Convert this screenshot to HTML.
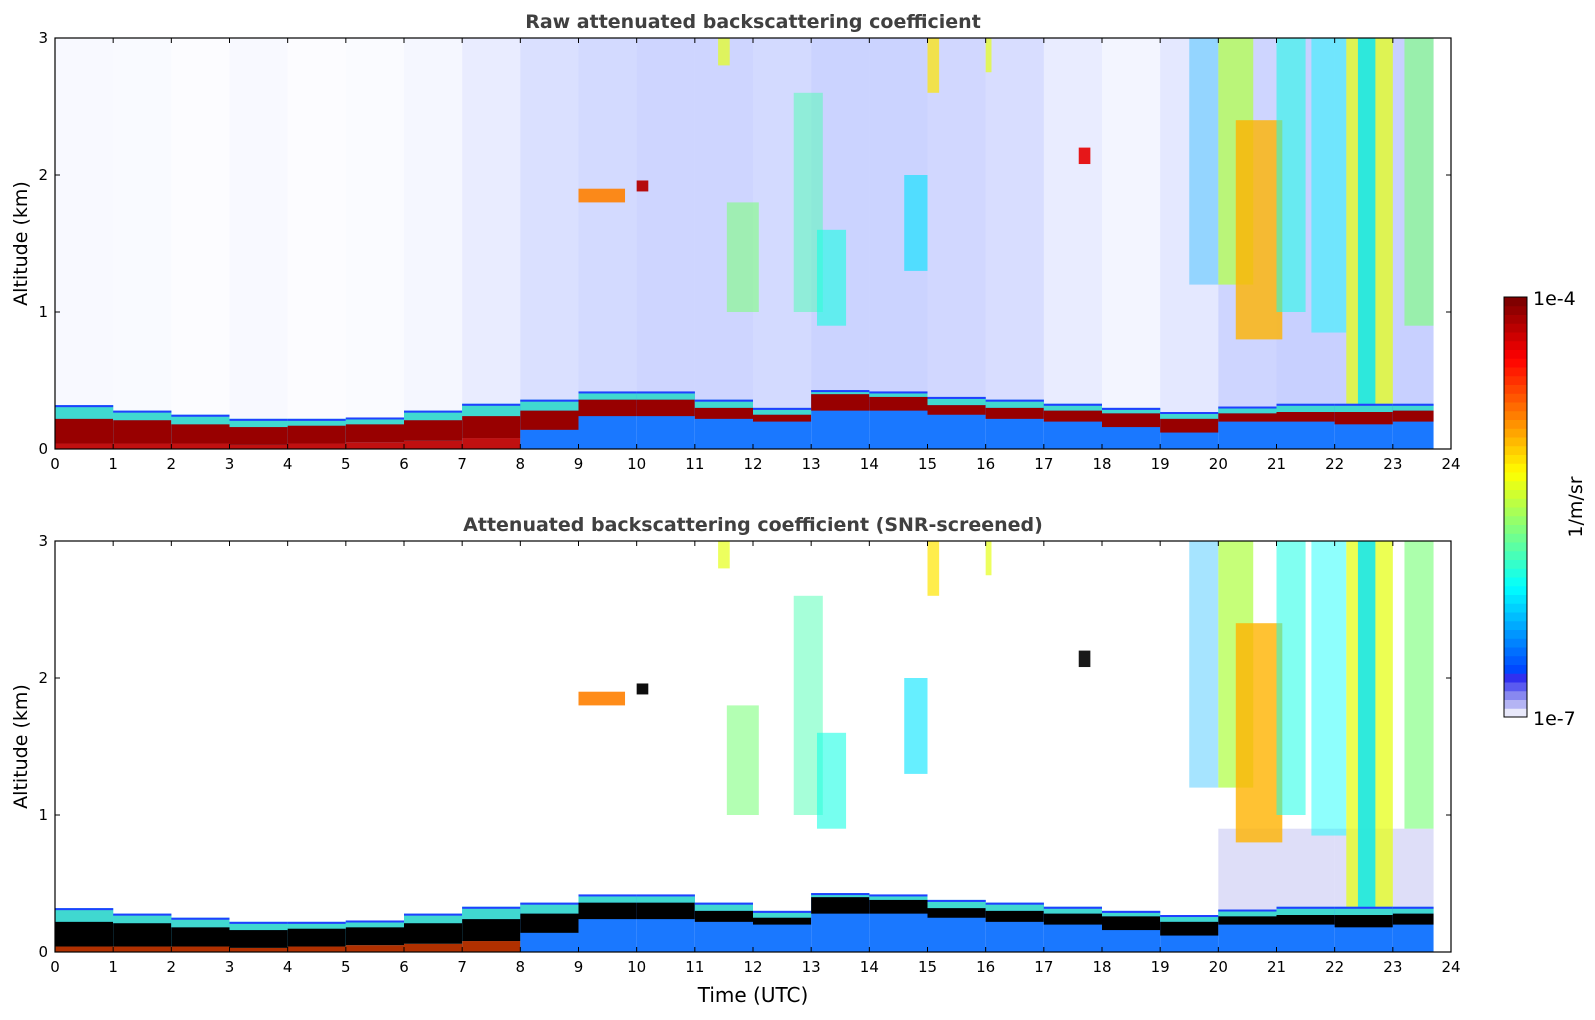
<!DOCTYPE html>
<html><head><meta charset="utf-8"><style>
html,body{margin:0;padding:0;background:#fff;}
svg{display:block;font-family:"DejaVu Sans","Liberation Sans",sans-serif;}
</style></head><body>
<svg id="chart" width="1595" height="1020" xmlns="http://www.w3.org/2000/svg"></svg>
<script>
// ---- data ----
const hours = [0,1,2,3,4,5,6,7,8,9,10,11,12,13,14,15,16,17,18,19,20,21,22,23];
const blTop   = [0.32,0.28,0.25,0.22,0.22,0.23,0.28,0.33,0.36,0.42,0.42,0.36,0.30,0.43,0.42,0.38,0.36,0.33,0.30,0.27,0.31,0.33,0.33,0.33];
const layerLo = [0.04,0.04,0.04,0.03,0.04,0.05,0.06,0.08,0.14,0.24,0.24,0.22,0.20,0.28,0.28,0.25,0.22,0.20,0.16,0.12,0.20,0.20,0.18,0.20];
const layerHi = [0.22,0.21,0.18,0.16,0.17,0.18,0.21,0.24,0.28,0.36,0.36,0.30,0.25,0.40,0.38,0.32,0.30,0.28,0.26,0.22,0.26,0.27,0.27,0.28];
const noiseDensity = [0.06,0.05,0.03,0.06,0.03,0.04,0.08,0.18,0.30,0.36,0.40,0.40,0.36,0.42,0.42,0.38,0.32,0.18,0.10,0.22,0.40,0.45,0.45,0.45];
// clouds: start time, end time, base km, top km, colour level (0..1 on jet)
const cloudT0   = [9.0, 10.0, 11.55, 12.7, 13.1, 14.6, 17.6, 19.5, 20.0, 20.3, 21.0, 21.6, 22.2, 22.4, 23.2, 11.4, 15.0, 16.0];
const cloudT1   = [9.8, 10.2, 12.1, 13.2, 13.6, 15.0, 17.8, 20.0, 20.6, 21.1, 21.5, 22.2, 23.0, 22.7, 23.7, 11.6, 15.2, 16.1];
const cloudBase = [1.80,1.88,1.00,1.00,0.90,1.30,2.08,1.20,1.20,0.80,1.00,0.85,0.30,0.30,0.90,2.80,2.60,2.75];
const cloudTop  = [1.90,1.96,1.80,2.60,1.60,2.00,2.20,3.00,3.00,2.40,3.00,3.00,3.00,3.00,3.00,3.00,3.00,3.00];
const cloudLvl  = [0.75,0.95,0.50,0.45,0.40,0.35,0.90,0.30,0.55,0.70,0.40,0.38,0.60,0.35,0.50,0.60,0.65,0.60];
const cloudAlpha= [0.9,0.95,0.6,0.5,0.6,0.6,0.9,0.35,0.75,0.8,0.55,0.45,0.75,0.8,0.65,0.7,0.7,0.7];
const xTicks = [0,1,2,3,4,5,6,7,8,9,10,11,12,13,14,15,16,17,18,19,20,21,22,23,24];
const yTicks = [0,1,2,3];
const endTime = 23.7;

const NS="http://www.w3.org/2000/svg";
const svg=document.getElementById('chart');
const X0=55,X1=1451;
const panels=[{y0:38,y1:449,title:"Raw attenuated backscattering coefficient",raw:true},
              {y0:541,y1:952,title:"Attenuated backscattering coefficient (SNR-screened)",raw:false}];
function xs(t){return X0+t*(X1-X0)/24;}
function jet(v){
  v=Math.max(0,Math.min(1,v));
  const r=Math.max(0,Math.min(1,1.5-Math.abs(4*v-3)));
  const g=Math.max(0,Math.min(1,1.5-Math.abs(4*v-2)));
  const b=Math.max(0,Math.min(1,1.5-Math.abs(4*v-1)));
  return `rgb(${Math.round(r*255)},${Math.round(g*255)},${Math.round(b*255)})`;
}
function el(tag,attrs,parent){const e=document.createElementNS(NS,tag);for(const k in attrs)e.setAttribute(k,attrs[k]);(parent||svg).appendChild(e);return e;}

panels.forEach((p,pi)=>{
  const ys=a=>p.y1-a*(p.y1-p.y0)/3;
  const g=el('g',{});
  
  
  if(p.raw){
    hours.forEach((h,i)=>{
      const t1=Math.min(h+1,endTime);
      const r=el('rect',{x:xs(h),y:ys(3),width:xs(t1)-xs(h),height:ys(blTop[i])-ys(3),fill:'#2040ff','fill-opacity':noiseDensity[i]*0.55},g);
      
      
    });
  } else {
    hours.forEach((h,i)=>{
      if(h<20) return;
      const t1=Math.min(h+1,endTime);
      const r=el('rect',{x:xs(h),y:ys(0.9),width:xs(t1)-xs(h),height:ys(blTop[i])-ys(0.9),fill:'#c8c8f4','fill-opacity':0.6},g);
      
      
    });
  }
  cloudT0.forEach((t0,i)=>{
    const r=el('rect',{x:xs(t0),y:ys(cloudTop[i]),width:xs(cloudT1[i])-xs(t0),height:ys(cloudBase[i])-ys(cloudTop[i]),fill:(!p.raw&&cloudLvl[i]>0.85)?'#000':jet(cloudLvl[i]),'fill-opacity':cloudAlpha[i]},g);
    
    
  });
  hours.forEach((h,i)=>{
    const t1=Math.min(h+1,endTime);
    const w=xs(t1)-xs(h);
    const base=el('rect',{x:xs(h),y:ys(blTop[i]),width:w,height:ys(0)-ys(blTop[i]),fill:h>=8?'#1a78ff':'#20c8ff'},g);
    
    
    const edge=el('rect',{x:xs(h),y:ys(blTop[i]),width:w,height:ys(layerHi[i])-ys(blTop[i]),fill:'#40d8d0'},g);
    
    
    const line=el('rect',{x:xs(h),y:ys(blTop[i]),width:w,height:2,fill:'#2040ff'},g);
    
    
    const core=el('rect',{x:xs(h),y:ys(layerHi[i]),width:w,height:ys(layerLo[i])-ys(layerHi[i]),fill:p.raw?'#980000':'#000000'},g);
    
    
    if(h<8){
      const low=el('rect',{x:xs(h),y:ys(layerLo[i]),width:w,height:ys(0)-ys(layerLo[i]),fill:p.raw?'#c01010':'#b03000'},g);
      
      
    }
  });
  const f=el('rect',{x:X0,y:p.y0,width:X1-X0,height:p.y1-p.y0,fill:'none',stroke:'#000','stroke-width':1.2});
  
  
  xTicks.forEach(t=>{
    el('line',{x1:xs(t),x2:xs(t),y1:p.y1,y2:p.y1-5,stroke:'#000'});
    el('line',{x1:xs(t),x2:xs(t),y1:p.y0,y2:p.y0+5,stroke:'#000'});
    const tx=el('text',{x:xs(t),y:p.y1+20,'text-anchor':'middle','font-size':15});
    tx.textContent=t;
    
    
  });
  yTicks.forEach(a=>{
    el('line',{x1:X0,x2:X0+5,y1:ys(a),y2:ys(a),stroke:'#000'});
    el('line',{x1:X1,x2:X1-5,y1:ys(a),y2:ys(a),stroke:'#000'});
    const ty=el('text',{x:X0-7,y:ys(a)+5,'text-anchor':'end','font-size':15});
    ty.textContent=a;
    
    
  });
  const tt=el('text',{x:(X0+X1)/2,y:p.y0-10,'text-anchor':'middle','font-size':19,'font-weight':'bold',fill:'#404040'});
  tt.textContent=p.title;
  
  
  const yl=el('text',{x:0,y:0,'text-anchor':'middle','font-size':19,transform:`translate(27,${(p.y0+p.y1)/2}) rotate(-90)`});
  yl.textContent='Altitude (km)';
  
  
});
const xl=el('text',{x:(X0+X1)/2,y:1002,'text-anchor':'middle','font-size':20});
xl.textContent='Time (UTC)';


const CB={x:1504,w:23,y0:297,y1:717,n:48};
for(let i=0;i<CB.n;i++){
  const v=i/(CB.n-1);
  const h=(CB.y1-CB.y0)/CB.n;
  let c=jet(0.1+0.9*v);
  if(i<5){c=['#e8e8fa','#b4b4f4','#8888f0','#5a5af0','#3030f0'][i];}
  const r=el('rect',{x:CB.x,y:CB.y1-(i+1)*h,width:CB.w,height:h+0.5,fill:c});
  
  
}
el('rect',{x:CB.x,y:CB.y0,width:CB.w,height:CB.y1-CB.y0,fill:'none',stroke:'#000','stroke-width':1});
const c1=el('text',{x:1533,y:305,'font-size':19});c1.textContent='1e-4';


const c2=el('text',{x:1533,y:725,'font-size':19});c2.textContent='1e-7';


const cl=el('text',{x:0,y:0,'text-anchor':'middle','font-size':19,transform:'translate(1582,507) rotate(-90)'});
cl.textContent='1/m/sr';


</script>
</body></html>
